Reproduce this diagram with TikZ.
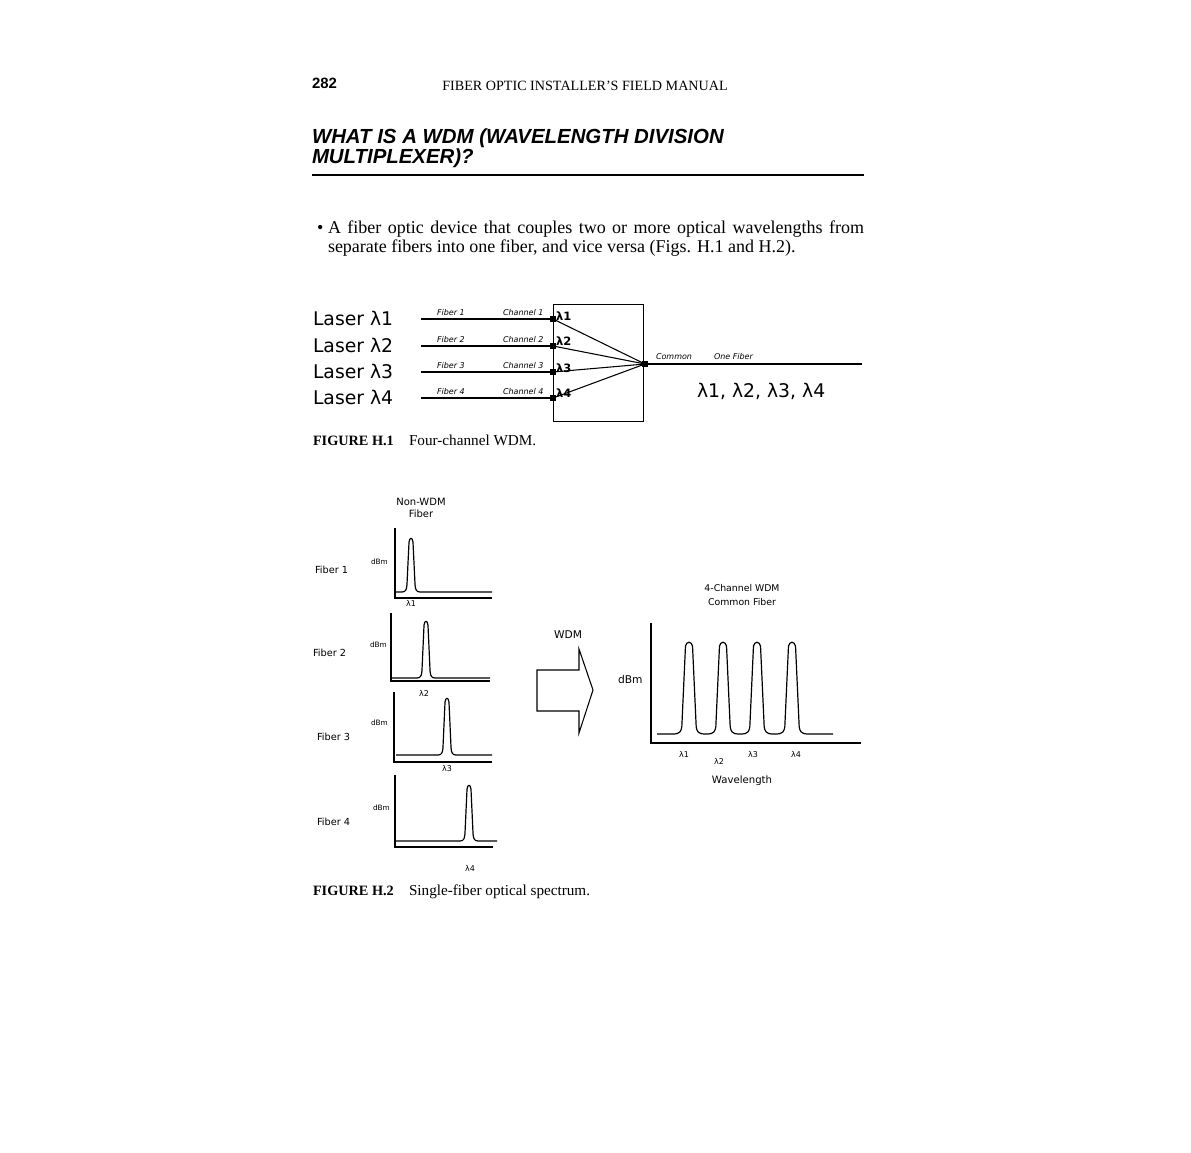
\documentclass[tikz,border=0pt]{standalone}
\usepackage{fontspec}
\setmainfont{Liberation Serif}
\newfontfamily\headsans{Liberation Sans}
\newfontfamily\figsans{DejaVu Sans}
\usepackage{tikz}
\usetikzlibrary{positioning}
\tikzset{
  txt/.style={inner sep=0pt, outer sep=0pt},
  laser/.style={txt, anchor=base west, font=\figsans\fontsize{14.1}{16}\selectfont},
  tag/.style={txt, anchor=base west, font=\figsans\itshape\fontsize{6}{7}\selectfont},
  chan/.style={txt, anchor=base west, font=\figsans\bfseries\fontsize{8.6}{10}\selectfont},
  figlbl/.style={txt, anchor=base, font=\figsans\fontsize{#1}{#1}\selectfont},
  figlbl/.default=7.3,
  port/.style={rectangle, fill=black, inner sep=0pt, minimum size=3.8pt},
  fiber/.style={line width=2.2pt},
  axis/.style={line width=1pt},
  trace/.style={line width=0.9pt, line join=round},
  caphead/.style={txt, anchor=base west, font=\bfseries\fontsize{10.7}{12}\selectfont},
  captext/.style={txt, anchor=base west, font=\fontsize{11.4}{13}\selectfont},
  body/.style={txt, anchor=base west, font=\fontsize{13.5}{16}\selectfont},
}
% one spectral line: x, base y, top y, half width
\newcommand{\wdmpeak}[4]{(#1-#4,#2) .. controls (#1-0.55*#4,#2) and (#1-0.5*#4,#2-3) .. (#1-0.45*#4,#2-7)
  -- (#1-0.22*#4,#3+5) .. controls (#1-0.14*#4,#3) and (#1+0.14*#4,#3) .. (#1+0.22*#4,#3+5)
  -- (#1+0.45*#4,#2-7) .. controls (#1+0.5*#4,#2-3) and (#1+0.55*#4,#2) .. (#1+#4,#2)}
\begin{document}
\begin{tikzpicture}[x=0.75pt, y=-0.75pt]
\fill[white] (0,0) rectangle (1191,1152);
\useasboundingbox (0,0) rectangle (1191,1152);

% page head and heading
\node[txt, anchor=base west, font=\headsans\bfseries\fontsize{11.2}{13}\selectfont] (pageno) at (312,89) {282};
\node[txt, anchor=base, font=\fontsize{10.6}{12}\selectfont] (runhead) at (585,91) {FIBER OPTIC INSTALLER'S FIELD MANUAL};
\node[txt, anchor=base west, font=\headsans\bfseries\itshape\fontsize{15.3}{18}\selectfont] (title1) at (312,144) {WHAT IS A WDM (WAVELENGTH DIVISION};
\node[txt, anchor=base west, font=\headsans\bfseries\itshape\fontsize{15.3}{18}\selectfont] (title2) at (312,164) {MULTIPLEXER)?};
\draw[line width=1.1pt] (312,175) -- (864,175);

% bullet text
\node[body] (bullet) at (317,233) {•};
\node[body] (para1) at (328,233)
  {\makebox[402pt][s]{A fiber optic device that couples two or more optical wavelengths from}};
\node[body] (para2) at (328,252)
  {separate fibers into one fiber, and vice versa (Figs. H.1 and H.2).};

% Figure H.1 -- lasers, fibers and the WDM box
\node[laser] (las1) at (313,325) {Laser λ1};
\node[laser] (las2) at (313,352) {Laser λ2};
\node[laser] (las3) at (313,378) {Laser λ3};
\node[laser] (las4) at (313,404) {Laser λ4};

\draw[line width=0.7pt] (553,304) rectangle (643,421);

\coordinate (f1) at (421,319);
\coordinate (f2) at (421,346);
\coordinate (f3) at (421,372);
\coordinate (f4) at (421,398);
\node[port] (ch1) at (553,319) {};
\node[port] (ch2) at (553,346) {};
\node[port] (ch3) at (553,372) {};
\node[port] (ch4) at (553,398) {};
\node[port] (com) at (645,364) {};
\coordinate (out) at (862,364);

\draw[fiber] (f1) -- (ch1);
\draw[fiber] (f2) -- (ch2);
\draw[fiber] (f3) -- (ch3);
\draw[fiber] (f4) -- (ch4);
\draw[line width=0.8pt] (ch1.center) -- (com.center);
\draw[line width=0.8pt] (ch2.center) -- (com.center);
\draw[line width=0.8pt] (ch3.center) -- (com.center);
\draw[line width=0.8pt] (ch4.center) -- (com.center);
\draw[fiber] (com) -- (out);

\node[tag] (fib1) at (437,315) {Fiber 1};
\node[tag] (fib2) at (437,342) {Fiber 2};
\node[tag] (fib3) at (437,368) {Fiber 3};
\node[tag] (fib4) at (437,394) {Fiber 4};
\node[tag] (chn1) at (503,315) {Channel 1};
\node[tag] (chn2) at (503,342) {Channel 2};
\node[tag] (chn3) at (503,368) {Channel 3};
\node[tag] (chn4) at (503,394) {Channel 4};
\node[chan] (lam1) at (556,320) {λ1};
\node[chan] (lam2) at (556,345) {λ2};
\node[chan] (lam3) at (556,372) {λ3};
\node[chan] (lam4) at (556,397) {λ4};
\node[tag] (comtag) at (656,359) {Common};
\node[tag] (onetag) at (714,359) {One Fiber};
\node[laser] (alllam) at (697,397) {λ1, λ2, λ3, λ4};

\node[caphead] (cap1) at (313,445) {FIGURE H.1};
\node[captext] (cap1t) at (409,445) {Four-channel WDM.};

% Figure H.2 -- single fiber spectra
\node[figlbl=7.5] (nonwdm) at (421,505) {Non-WDM};
\node[figlbl=7.5] (nonfib) at (421,517) {Fiber};

\node[figlbl, anchor=base west] (fibl1) at (315,573) {Fiber 1};
\node[figlbl=5.5, anchor=base west] (dbm1) at (371,564) {dBm};
\draw[axis] (395,528) -- (395,598) -- (492,598);
\draw[trace] (396,592) -- \wdmpeak{411}{592}{537}{9} -- (492,592);
\node[figlbl=6] (lx1) at (411,606) {λ1};

\node[figlbl, anchor=base west] (fibl2) at (313,656) {Fiber 2};
\node[figlbl=5.5, anchor=base west] (dbm2) at (370,647) {dBm};
\draw[axis] (391,613) -- (391,681) -- (490,681);
\draw[trace] (392,678) -- \wdmpeak{426}{678}{620}{9} -- (490,678);
\node[figlbl=6] (lx2) at (424,696) {λ2};

\node[figlbl, anchor=base west] (fibl3) at (317,740) {Fiber 3};
\node[figlbl=5.5, anchor=base west] (dbm3) at (371,725) {dBm};
\draw[axis] (394,692) -- (394,762) -- (492,762);
\draw[trace] (396,755) -- \wdmpeak{447}{755}{697}{9} -- (492,755);
\node[figlbl=6] (lx3) at (447,771) {λ3};

\node[figlbl, anchor=base west] (fibl4) at (317,825) {Fiber 4};
\node[figlbl=5.5, anchor=base west] (dbm4) at (373,810) {dBm};
\draw[axis] (395,775) -- (395,847) -- (493,847);
\draw[trace] (396,841) -- \wdmpeak{469}{841}{784}{9} -- (497,841);
\node[figlbl=6] (lx4) at (470,871) {λ4};

% WDM arrow
\node[figlbl=8] (wdm) at (568,638) {WDM};
\draw[line width=0.8pt, line join=miter] (537,670) -- (579,670) -- (579,649) -- (593,690)
  -- (579,733) -- (579,711) -- (537,711) -- cycle;

% common fiber spectrum
\node[figlbl=7] (chan4a) at (742,591) {4-Channel WDM};
\node[figlbl=7] (chan4b) at (742,605) {Common Fiber};
\node[figlbl=8, anchor=base west] (dbmc) at (618,683) {dBm};
\draw[axis] (651,623) -- (651,743) -- (861,743);
\draw[trace] (657,734) -- \wdmpeak{689}{734}{641}{16} -- \wdmpeak{723}{734}{641}{16}
  -- \wdmpeak{757}{734}{641}{16} -- \wdmpeak{792}{734}{641}{16} -- (833,734);
\node[figlbl=6] (lc1) at (684,757) {λ1};
\node[figlbl=6] (lc2) at (719,764) {λ2};
\node[figlbl=6] (lc3) at (753,757) {λ3};
\node[figlbl=6] (lc4) at (796,757) {λ4};
\node[figlbl=7.6] (wavel) at (742,783) {Wavelength};

\node[caphead] (cap2) at (313,895) {FIGURE H.2};
\node[captext] (cap2t) at (409,895) {Single-fiber optical spectrum.};

\end{tikzpicture}
\end{document}
